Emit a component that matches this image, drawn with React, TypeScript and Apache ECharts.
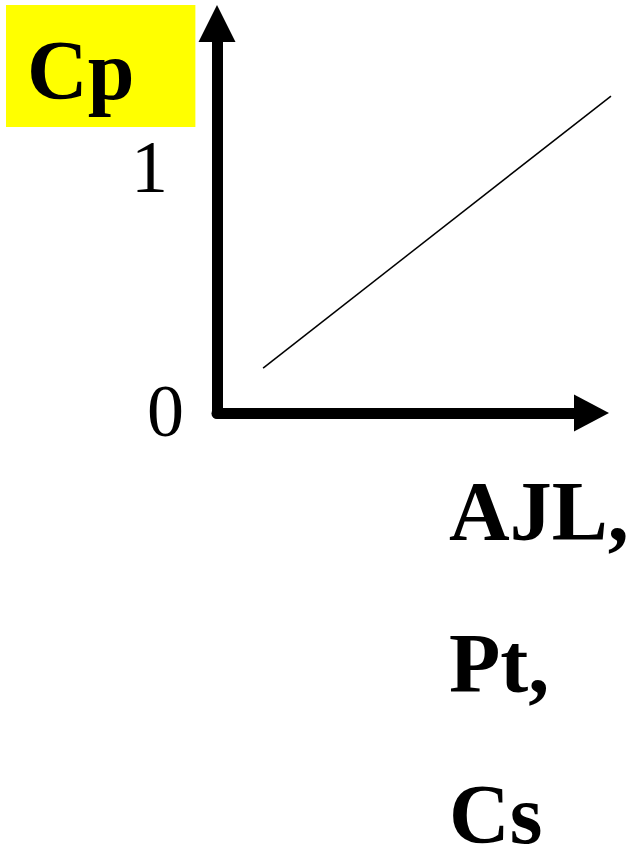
import React, { useEffect, useRef } from "react";
import * as echarts from "echarts";

const yTickValues = [0, 1];
const yAxisTitle = "Cp";
const xAxisTitleLines = ["AJL,", "Pt,", "Cs"];
const lineX = [0.117, 1.0];
const lineY = [0.183, 1.29];

const SERIF = "'Liberation Serif', 'Times New Roman', serif";

export default function App() {
  const ref = useRef<HTMLDivElement>(null);
  useEffect(() => {
    if (!ref.current) return;
    const chart = echarts.init(ref.current, null, { renderer: "svg" });
    const Y_MAX = 1.51;
    chart.setOption({
      animation: false,
      backgroundColor: "#ffffff",
      title: {
        text: yAxisTitle,
        left: 6,
        top: 5,
        backgroundColor: "#ffff00",
        padding: [23, 61, 15, 21],
        textStyle: {
          fontFamily: SERIF,
          fontWeight: "bold",
          fontSize: 84,
          lineHeight: 84,
          color: "#000",
        },
      },
      grid: [
        { left: 217, right: 58, top: 42, bottom: 436, outerBoundsMode: "none", containLabel: false },
        { left: 217, right: 21, top: 42, bottom: 436, outerBoundsMode: "none", containLabel: false },
      ],
      xAxis: [
        {
          type: "value",
          gridIndex: 0,
          min: 0,
          max: 1,
          name: xAxisTitleLines.join("\n"),
          nameLocation: "end",
          nameGap: -125,
          nameTextStyle: {
            align: "left",
            verticalAlign: "top",
            fontFamily: SERIF,
            fontWeight: "bold",
            fontSize: 84,
            lineHeight: 151.5,
            color: "#000",
            padding: [23, 0, 0, 0],
          },
          axisLine: {
            show: true,
            lineStyle: { color: "#000", width: 11 },
            symbol: ["none", "triangle"],
            symbolSize: [37, 35],
            symbolOffset: [0, 17.5],
          },
          axisTick: { show: false },
          axisLabel: { show: false },
          splitLine: { show: false },
        },
        {
          type: "value",
          gridIndex: 1,
          min: 0,
          max: 1,
          show: false,
        },
      ],
      yAxis: [
        {
          type: "value",
          gridIndex: 0,
          min: 0,
          max: Y_MAX,
          axisLine: {
            show: true,
            lineStyle: { color: "#000", width: 11 },
            symbol: ["none", "triangle"],
            symbolSize: [37, 37],
            symbolOffset: [0, 18.5],
          },
          axisTick: { show: false },
          splitLine: { show: false },
          axisLabel: {
            show: true,
            customValues: yTickValues,
            margin: 33,
            formatter: (v: number) => (v === 1 ? "{a|" + v + "}" : "{b|" + v + "}"),
            rich: {
              a: {
                fontFamily: SERIF,
                fontSize: 74,
                color: "#000",
                padding: [0, 16, 0, 0],
              },
              b: {
                fontFamily: SERIF,
                fontSize: 74,
                color: "#000",
                padding: [0, 0, 4, 0],
              },
            },
          },
        },
        {
          type: "value",
          gridIndex: 1,
          min: 0,
          max: Y_MAX,
          show: false,
        },
      ],
      series: [
        {
          type: "line",
          xAxisIndex: 1,
          yAxisIndex: 1,
          data: lineX.map((x, i) => [x, lineY[i]]),
          showSymbol: false,
          clip: false,
          lineStyle: { color: "#000", width: 1.5 },
          silent: true,
        },
      ],
    });
    return () => chart.dispose();
  }, []);
  return (
    <div
      ref={ref}
      style={{ position: "fixed", left: 0, top: 0, width: 632, height: 849 }}
    />
  );
}
